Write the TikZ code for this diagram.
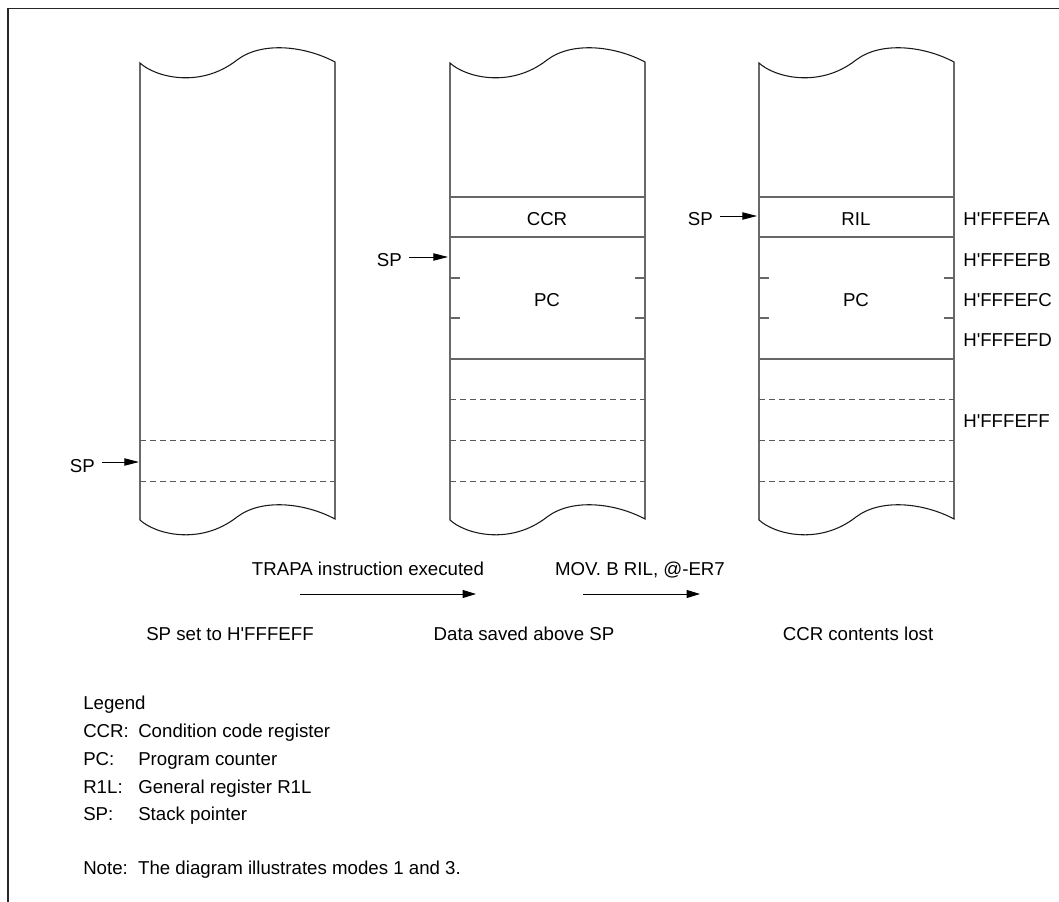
\documentclass[tikz,border=0pt]{standalone}
\usepackage{fontspec}
\setmainfont{Liberation Sans}
\usetikzlibrary{arrows.meta,positioning,calc}
\newcommand{\hq}{H\textquotesingle}
\tikzset{
  frame/.style  ={draw=black!85, line width=1pt},
  wall/.style   ={draw=black!90, line width=0.8pt},
  sepl/.style   ={draw=black!60, line width=0.8pt},
  dsep/.style   ={draw=black!65, line width=0.6pt, dash pattern=on 4.5pt off 3pt},
  lbl/.style    ={font=\fontsize{14}{17}\selectfont, inner sep=0pt},
  spar/.style   ={-{Triangle[length=11pt,width=5.5pt]}, line width=0.7pt},
  far/.style    ={-{Triangle[length=10pt,width=6pt]}, line width=0.7pt},
}
\begin{document}
\begin{tikzpicture}[x=0.75pt,y=-0.75pt]
\useasboundingbox (0,0) rectangle (1059,902);
\draw[frame] (8,902) -- (8,8.5) -- (1059,8.5);

% stack areas with torn top and bottom
\foreach \x in {140,450,759}{
  \draw[wall] (\x,63) .. controls +(15,14) and +(-37,29) .. ++(97,-3)
    .. controls +(25,-19) and +(-30,-16) .. ++(98,2) -- ++(0,457)
    .. controls +(-30,-16) and +(25,-19) .. ++(-98,-2)
    .. controls +(-37,29) and +(15,14) .. ++(-97,3) -- cycle;
}

% before TRAPA
\foreach \y in {440,481}
  \draw[dsep] (140,\y) -- ++(195,0);

% after TRAPA and after MOV.B
\foreach \x in {450,759}{
  \foreach \y in {197,237,359}
    \draw[sepl] (\x,\y) -- ++(195,0);
  \foreach \y in {278,318}{
    \draw[sepl] (\x,\y) -- ++(10,0);
    \draw[sepl] (\x+195,\y) -- ++(-10,0);
  }
  \foreach \y in {399,440,481}
    \draw[dsep] (\x,\y) -- ++(195,0);
}

\node[lbl, anchor=base] (ccr) at (547,226) {CCR};
\node[lbl, anchor=base] (pcb) at (547,306) {PC};
\node[lbl, anchor=base] (ril) at (856,226) {RIL};
\node[lbl, anchor=base] (pcc) at (856,306) {PC};

% addresses
\node[lbl, anchor=base west] (fa) at (963,226) {\hq FFFEFA};
\node[lbl, anchor=base west] (fb) at (963,266) {\hq FFFEFB};
\node[lbl, anchor=base west] (fc) at (963,306) {\hq FFFEFC};
\node[lbl, anchor=base west] (fd) at (963,346) {\hq FFFEFD};
\node[lbl, anchor=base west] (ff) at (963,427) {\hq FFFEFF};

% stack pointers
\coordinate (spa-tip) at (139,462);
\coordinate (spb-tip) at (448,257);
\coordinate (spc-tip) at (757,216);
\node[lbl, anchor=base east] (spa) at (95,472) {SP};
\node[lbl, anchor=base east] (spb) at (402,267) {SP};
\node[lbl, anchor=base east] (spc) at (713,226) {SP};
\draw[spar] ([xshift=5.25pt]spa.east |- spa-tip) -- (spa-tip);
\draw[spar] ([xshift=5.25pt]spb.east |- spb-tip) -- (spb-tip);
\draw[spar] ([xshift=5.25pt]spc.east |- spc-tip) -- (spc-tip);

% transitions
\node[lbl, anchor=base] (trapa) at (368,575) {TRAPA instruction executed};
\node[lbl, anchor=base] (movb) at (640,575) {MOV. B RIL, @-ER7};
\coordinate (t1) at (300,594);
\coordinate (t2) at (476,594);
\coordinate (m1) at (583,594);
\coordinate (m2) at (700,594);
\draw[far] (t1) -- (t2);
\draw[far] (m1) -- (m2);

\node[lbl, anchor=base] (st1) at (230,640) {SP set to \hq FFFEFF};
\node[lbl, anchor=base] (st2) at (524,640) {Data saved above SP};
\node[lbl, anchor=base] (st3) at (858,640) {CCR contents lost};

% legend
\node[lbl, anchor=base west] (leg) at (83,709) {Legend};
\node[lbl, anchor=base west] (lg1) at (83,737) {CCR:};
\node[lbl, anchor=base west] (lg2) at (83,765) {PC:};
\node[lbl, anchor=base west] (lg3) at (83,793) {R1L:};
\node[lbl, anchor=base west] (lg4) at (83,820) {SP:};
\node[lbl, anchor=base west] (ld1) at (138,737) {Condition code register};
\node[lbl, anchor=base west] (ld2) at (138,765) {Program counter};
\node[lbl, anchor=base west] (ld3) at (138,793) {General register R1L};
\node[lbl, anchor=base west] (ld4) at (138,820) {Stack pointer};
\node[lbl, anchor=base west] (note) at (83,874) {Note:\hspace{0.55em}The diagram illustrates modes 1 and 3.};

\end{tikzpicture}
\end{document}
